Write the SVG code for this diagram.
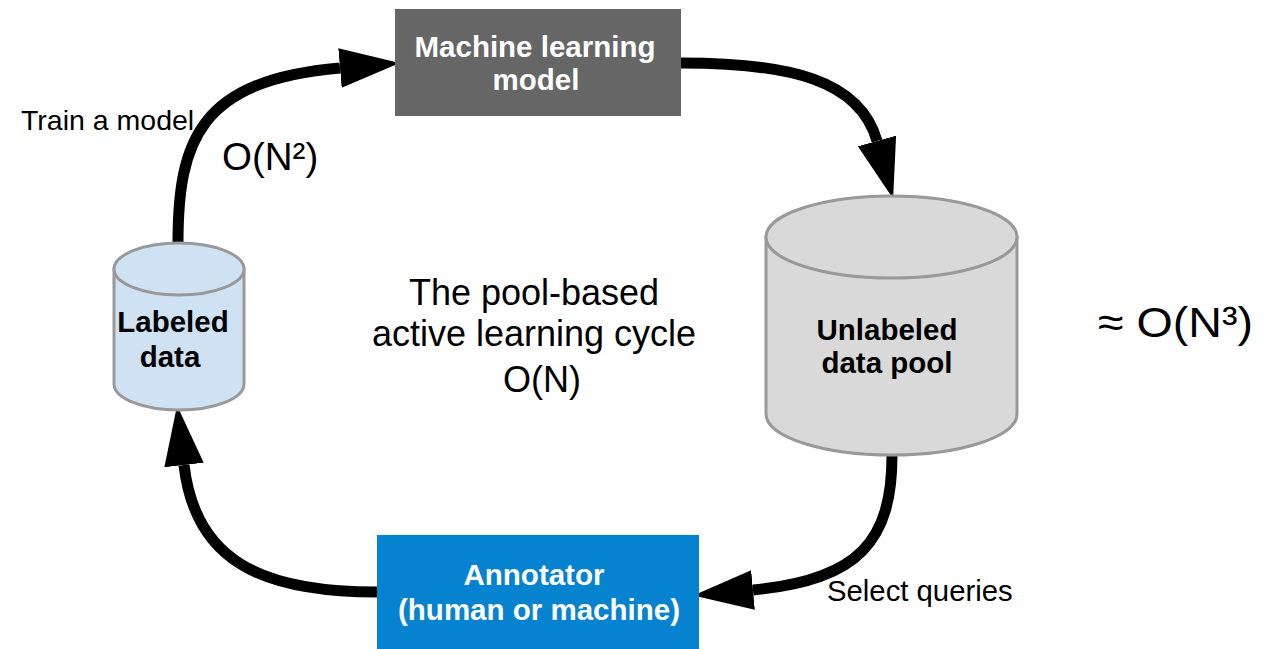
<svg xmlns="http://www.w3.org/2000/svg" width="1263" height="649" viewBox="0 0 1263 649">
  <style>
    .box-label { font-family: "Liberation Sans", Arial, sans-serif; font-weight: bold; font-size: 29.5px; text-anchor: middle; }
    .plain { font-family: "Liberation Sans", Arial, sans-serif; fill: #000; }
    .cyl { stroke: #999999; stroke-width: 3; }
    .edge { fill: none; stroke: #000; stroke-width: 11; }
  </style>
  <defs>
    <marker id="head" markerUnits="userSpaceOnUse" markerWidth="60" markerHeight="40" refX="0" refY="18.5" orient="auto" viewBox="0 0 56 37">
      <path d="M0,0 L56,18.5 L0,37 z" fill="#000"/>
    </marker>
  </defs>
  <rect width="1263" height="649" fill="#fff"/>

  <!-- cycle connectors -->
  <g id="connectors">
    <path class="edge" d="M178,243 C178,140 200,80 340,68" marker-end="url(#head)"/>
    <path class="edge" d="M681,63 C790,63 860,80 877,141" marker-end="url(#head)"/>
    <path class="edge" d="M892,455 C892,540 860,580 753,590" marker-end="url(#head)"/>
    <path class="edge" d="M377,592 C260,592 195,560 184,465" marker-end="url(#head)"/>
  </g>

  <g id="ml-model">
    <rect x="395" y="9" width="286" height="107" fill="#666666"/>
    <text class="box-label" x="535" y="57" fill="#fff">Machine learning</text>
    <text class="box-label" x="536" y="90" fill="#fff">model</text>
  </g>

  <g id="labeled-data">
    <path class="cyl" fill="#cfe2f3" d="M114,269 L114,384 A65,26 0 0 0 244,384 L244,269 z"/>
    <ellipse class="cyl" fill="#cfe2f3" cx="179" cy="269" rx="65" ry="26"/>
    <text class="box-label" x="173" y="332" fill="#000">Labeled</text>
    <text class="box-label" x="170" y="367" fill="#000">data</text>
  </g>

  <g id="unlabeled-pool">
    <path class="cyl" fill="#d9d9d9" d="M766,237 L766,414 A125.5,41 0 0 0 1017,414 L1017,237 z"/>
    <ellipse class="cyl" fill="#d9d9d9" cx="891.5" cy="237" rx="125.5" ry="41"/>
    <text class="box-label" x="887" y="340" fill="#000">Unlabeled</text>
    <text class="box-label" x="887" y="373" fill="#000">data pool</text>
  </g>

  <g id="annotator">
    <rect x="377" y="535" width="322" height="120" fill="#0582d0"/>
    <text class="box-label" x="534" y="585" fill="#fff">Annotator</text>
    <text class="box-label" x="539" y="620" fill="#fff">(human or machine)</text>
  </g>

  <g id="labels">
    <text class="plain" x="21" y="130" font-size="28.5">Train a model</text>
    <text class="plain" x="222" y="170" font-size="38.5">O(N²)</text>
    <text class="plain" x="534" y="305" font-size="36" text-anchor="middle">The pool-based</text>
    <text class="plain" x="534" y="346" font-size="36" text-anchor="middle">active learning cycle</text>
    <text class="plain" x="542" y="392" font-size="36" text-anchor="middle">O(N)</text>
    <text class="plain" x="827" y="601" font-size="29.3">Select queries</text>
    <text class="plain" x="1098" y="337" font-size="43" textLength="155" lengthAdjust="spacingAndGlyphs">≈ O(N³)</text>
  </g>
</svg>
